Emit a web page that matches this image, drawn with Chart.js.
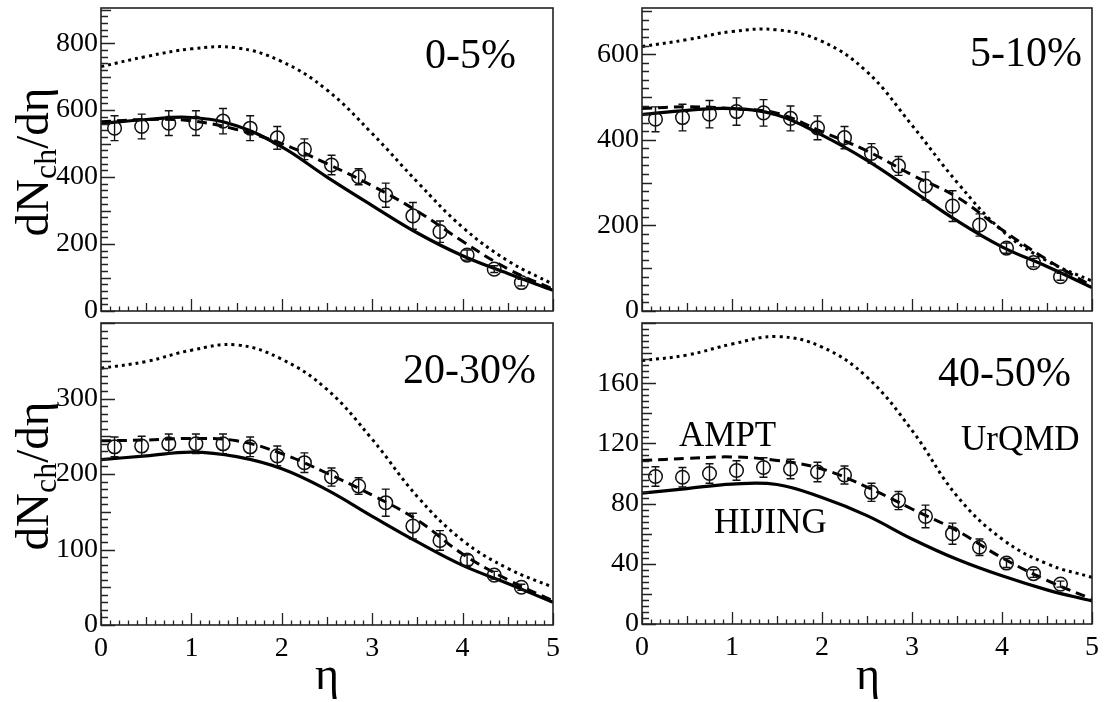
<!DOCTYPE html>
<html>
<head>
<meta charset="utf-8">
<script src="https://cdn.jsdelivr.net/npm/chart.js@4.4.0/dist/chart.umd.min.js"></script>
<style>
  body { margin: 0; background: #fff; width: 1106px; height: 702px; position: relative; overflow: hidden;
         font-family: "Liberation Serif", "Times New Roman", serif; color: #000; }
  canvas { position: absolute; }
  .t { position: absolute; white-space: nowrap; line-height: 1; }
  .ytitle { font-size: 47px; transform: translate(-50%, -50%) rotate(-90deg); }
  .ytitle sub { font-size: 0.68em; vertical-align: -0.25em; }
  .xtitle { font-size: 46px; transform: translateX(-50%); }
  .cent { font-size: 42px; }
  .model { font-size: 35px; }
</style>
</head>
<body>

<canvas id="p1"></canvas>
<canvas id="p2"></canvas>
<canvas id="p3"></canvas>
<canvas id="p4"></canvas>

<div class="t ytitle" style="left:35px; top:162px">dN<sub>ch</sub>/dη</div>
<div class="t ytitle" style="left:35px; top:476px">dN<sub>ch</sub>/dη</div>
<div class="t xtitle" style="left:327px; top:651px">η</div>
<div class="t xtitle" style="left:868px; top:651px">η</div>

<div class="t cent" style="right:590px; top:33px">0-5%</div>
<div class="t cent" style="right:24px; top:31px">5-10%</div>
<div class="t cent" style="right:570px; top:348px">20-30%</div>
<div class="t cent" style="right:35px; top:351px">40-50%</div>

<div class="t model" style="left:679px; top:417px">AMPT</div>
<div class="t model" style="left:714px; top:504px">HIJING</div>
<div class="t model" style="left:961px; top:421px">UrQMD</div>

<script>
// pseudorapidity of the measured points and of the model curves
const etaData = [0.15, 0.45, 0.75, 1.05, 1.35, 1.65, 1.95, 2.25, 2.55, 2.85, 3.15, 3.45, 3.75, 4.05, 4.35, 4.65];
const etaModel = [0, 0.5, 1, 1.5, 2, 2.5, 3, 3.5, 4, 4.5, 5];
const xTicks = [0, 1, 2, 3, 4, 5];

// 0-5%
const data0005 = [546, 551, 561, 561, 567, 546, 517, 483, 436, 401, 346, 284, 237, 167, 125, 85];
const err0005 = [37, 37, 37, 37, 38, 37, 34, 31, 29, 24, 36, 40, 32, 15, 10, 10];
const hijing0005 = [560, 572, 578, 553, 490, 400, 315, 233, 165, 112, 62];
const ampt0005 = [565, 572, 568, 542, 500, 440, 374, 298, 208, 126, 65];
const urqmd0005 = [730, 760, 783, 786, 745, 660, 530, 385, 250, 150, 80];
const yTicks0005 = [0, 200, 400, 600, 800];

// 5-10%
const data0510 = [448, 452, 460, 466, 463, 450, 428, 405, 368, 339, 292, 245, 201, 147, 113, 80];
const err0510 = [29, 31, 32, 32, 31, 29, 28, 26, 23, 22, 33, 36, 26, 12, 10, 8];
const hijing0510 = [459, 469, 473, 458, 411, 352, 282, 211, 150, 104, 55];
const ampt0510 = [473, 477, 473, 462, 419, 374, 318, 266, 190, 120, 58];
const urqmd0510 = [618, 634, 653, 657, 630, 559, 434, 301, 188, 117, 70];
const yTicks0510 = [0, 200, 400, 600];

// 20-30%
const data2030 = [236, 237, 240, 240, 240, 236, 224, 215, 196, 184, 162, 131, 112, 86, 66, 50];
const err2030 = [13, 13, 13, 13, 13, 13, 13, 13, 12, 11, 18, 17, 13, 7, 5, 4];
const hijing2030 = [219, 224, 229, 223, 207, 179, 144, 110, 79, 55, 30];
const ampt2030 = [244, 245, 247, 244, 227, 201, 172, 139, 94, 60, 32];
const urqmd2030 = [340, 349, 364, 371, 352, 312, 246, 170, 112, 75, 50];
const yTicks2030 = [0, 100, 200, 300];

// 40-50%
const data4050 = [98, 97.5, 100, 102, 104, 103, 101, 99, 87.5, 82, 71.5, 60, 51, 40.5, 33.5, 26.5];
const err4050 = [6.5, 6.5, 6.5, 6.5, 6.5, 6.5, 6.5, 6, 6, 6, 7.5, 7, 5.5, 3, 2.5, 2];
const hijing4050 = [87, 90, 93, 92.7, 84, 72, 56.5, 43, 32, 22.7, 15.3];
const ampt4050 = [108.7, 110, 111, 108.7, 103, 91, 76.4, 62, 44, 29, 16.5];
const urqmd4050 = [175, 178.7, 186, 191, 184, 164, 128.7, 85, 56.5, 40, 31];
const yTicks4050 = [0, 40, 80, 120, 160];

// y axis ranges / divisions per panel
const yMax = [905, 708, 400, 200];
const yMajor = [200, 200, 100, 40];
const yMedium = [100, 100, 50, 20];
const yMinor = [20, 20, 10, 4];

// layout of the plot frames on the page (px)
const YW = 95, PT = 20, PR = 20, PB = 20;
const frames = [
  { id: 'p1', left: 101, top: 8, right: 553, bottom: 311, showX: false },
  { id: 'p2', left: 642, top: 8, right: 1092, bottom: 311, showX: false },
  { id: 'p3', left: 101, top: 323, right: 553, bottom: 625, showX: true },
  { id: 'p4', left: 642, top: 323, right: 1092, bottom: 624, showX: true }
];

Chart.defaults.font.family = '"Liberation Serif", "Times New Roman", serif';
Chart.defaults.color = '#000';

function pts(xs, ys) {
  return xs.map((x, i) => ({ x: x, y: ys[i] }));
}

// box around the plot and ROOT-style ticks pointing inside
const frameTicks = {
  id: 'frameTicks',
  afterDraw(chart, args, o) {
    const { ctx, chartArea: a, scales: { x, y } } = chart;
    ctx.save();
    ctx.strokeStyle = '#222';
    ctx.lineWidth = 1.3;
    ctx.beginPath();
    const n = Math.floor(y.max / o.minor + 1e-6);
    for (let i = 0; i <= n; i++) {
      const v = i * o.minor;
      const near = s => Math.abs(v / s - Math.round(v / s)) < 1e-6;
      const len = near(o.major) ? 14 : near(o.medium) ? 10 : 7;
      const py = Math.round(y.getPixelForValue(v)) + 0.5;
      ctx.moveTo(a.left, py);
      ctx.lineTo(a.left + len, py);
    }
    for (let i = 0; i <= 50; i++) {
      const len = i % 10 === 0 ? 12 : i % 5 === 0 ? 8 : 4.5;
      const px = Math.round(x.getPixelForValue(i / 10)) + 0.5;
      ctx.moveTo(px, a.bottom);
      ctx.lineTo(px, a.bottom - len);
    }
    ctx.stroke();
    ctx.lineWidth = 1.6;
    ctx.strokeRect(a.left, a.top, a.right - a.left, a.bottom - a.top);
    ctx.restore();
  }
};

const errorBars = {
  id: 'errorBars',
  afterDatasetsDraw(chart) {
    const { ctx, scales: { x, y } } = chart;
    chart.data.datasets.forEach(ds => {
      if (!ds.errors) return;
      ctx.save();
      ctx.strokeStyle = '#111';
      ctx.lineWidth = 1.4;
      ctx.beginPath();
      ds.data.forEach((p, i) => {
        const px = x.getPixelForValue(p.x);
        const hi = y.getPixelForValue(p.y + ds.errors[i]);
        const lo = y.getPixelForValue(p.y - ds.errors[i]);
        ctx.moveTo(px, hi); ctx.lineTo(px, lo);
        ctx.moveTo(px - 4, hi); ctx.lineTo(px + 4, hi);
        ctx.moveTo(px - 4, lo); ctx.lineTo(px + 4, lo);
      });
      ctx.stroke();
      ctx.restore();
    });
  }
};

function makePanel(k, meas, errs, hij, amp, urq, yTicks) {
  const f = frames[k];
  const cv = document.getElementById(f.id);
  const xh = f.showX ? 45 : 1;
  cv.width = YW + (f.right - f.left) + PR;
  cv.height = PT + (f.bottom - f.top) + xh + PB;
  cv.style.left = (f.left - YW) + 'px';
  cv.style.top = (f.top - PT) + 'px';

  new Chart(cv, {
    type: 'line',
    data: {
      datasets: [
        {
          label: 'data', data: pts(etaData, meas), errors: errs, showLine: false,
          pointRadius: 6.8, pointBorderWidth: 1.5, pointBorderColor: '#111',
          pointBackgroundColor: 'rgba(0,0,0,0)', borderColor: '#111'
        },
        {
          label: 'HIJING', data: pts(etaModel, hij), borderColor: '#000', borderWidth: 3.2,
          pointRadius: 0, tension: 0.4, fill: false
        },
        {
          label: 'AMPT', data: pts(etaModel, amp), borderColor: '#000', borderWidth: 3,
          borderDash: [10, 6], pointRadius: 0, tension: 0.4, fill: false
        },
        {
          label: 'UrQMD', data: pts(etaModel, urq), borderColor: '#000', borderWidth: 3,
          borderDash: [3, 4], pointRadius: 0, tension: 0.4, fill: false
        }
      ]
    },
    options: {
      responsive: false,
      animation: false,
      devicePixelRatio: 1,
      layout: { padding: { top: PT, right: PR, bottom: PB, left: 0 } },
      plugins: {
        legend: { display: false },
        tooltip: { enabled: false },
        frameTicks: { major: yMajor[k], medium: yMedium[k], minor: yMinor[k] }
      },
      scales: {
        x: {
          type: 'linear', min: xTicks[0], max: xTicks[xTicks.length - 1],
          grid: { display: false, drawTicks: false }, border: { display: false },
          afterBuildTicks: s => { s.ticks = xTicks.map(v => ({ value: v })); },
          ticks: { display: f.showX, font: { size: 28 }, color: '#000', padding: 7, maxRotation: 0 },
          afterFit: s => { s.height = xh; }
        },
        y: {
          type: 'linear', min: 0, max: yMax[k],
          grid: { display: false, drawTicks: false }, border: { display: false },
          afterBuildTicks: s => { s.ticks = yTicks.map(v => ({ value: v })); },
          ticks: { font: { size: 28 }, color: '#000', padding: 3 },
          afterFit: s => { s.width = YW; }
        }
      }
    },
    plugins: [frameTicks, errorBars]
  });
}

makePanel(0, data0005, err0005, hijing0005, ampt0005, urqmd0005, yTicks0005);
makePanel(1, data0510, err0510, hijing0510, ampt0510, urqmd0510, yTicks0510);
makePanel(2, data2030, err2030, hijing2030, ampt2030, urqmd2030, yTicks2030);
makePanel(3, data4050, err4050, hijing4050, ampt4050, urqmd4050, yTicks4050);
</script>
</body>
</html>
